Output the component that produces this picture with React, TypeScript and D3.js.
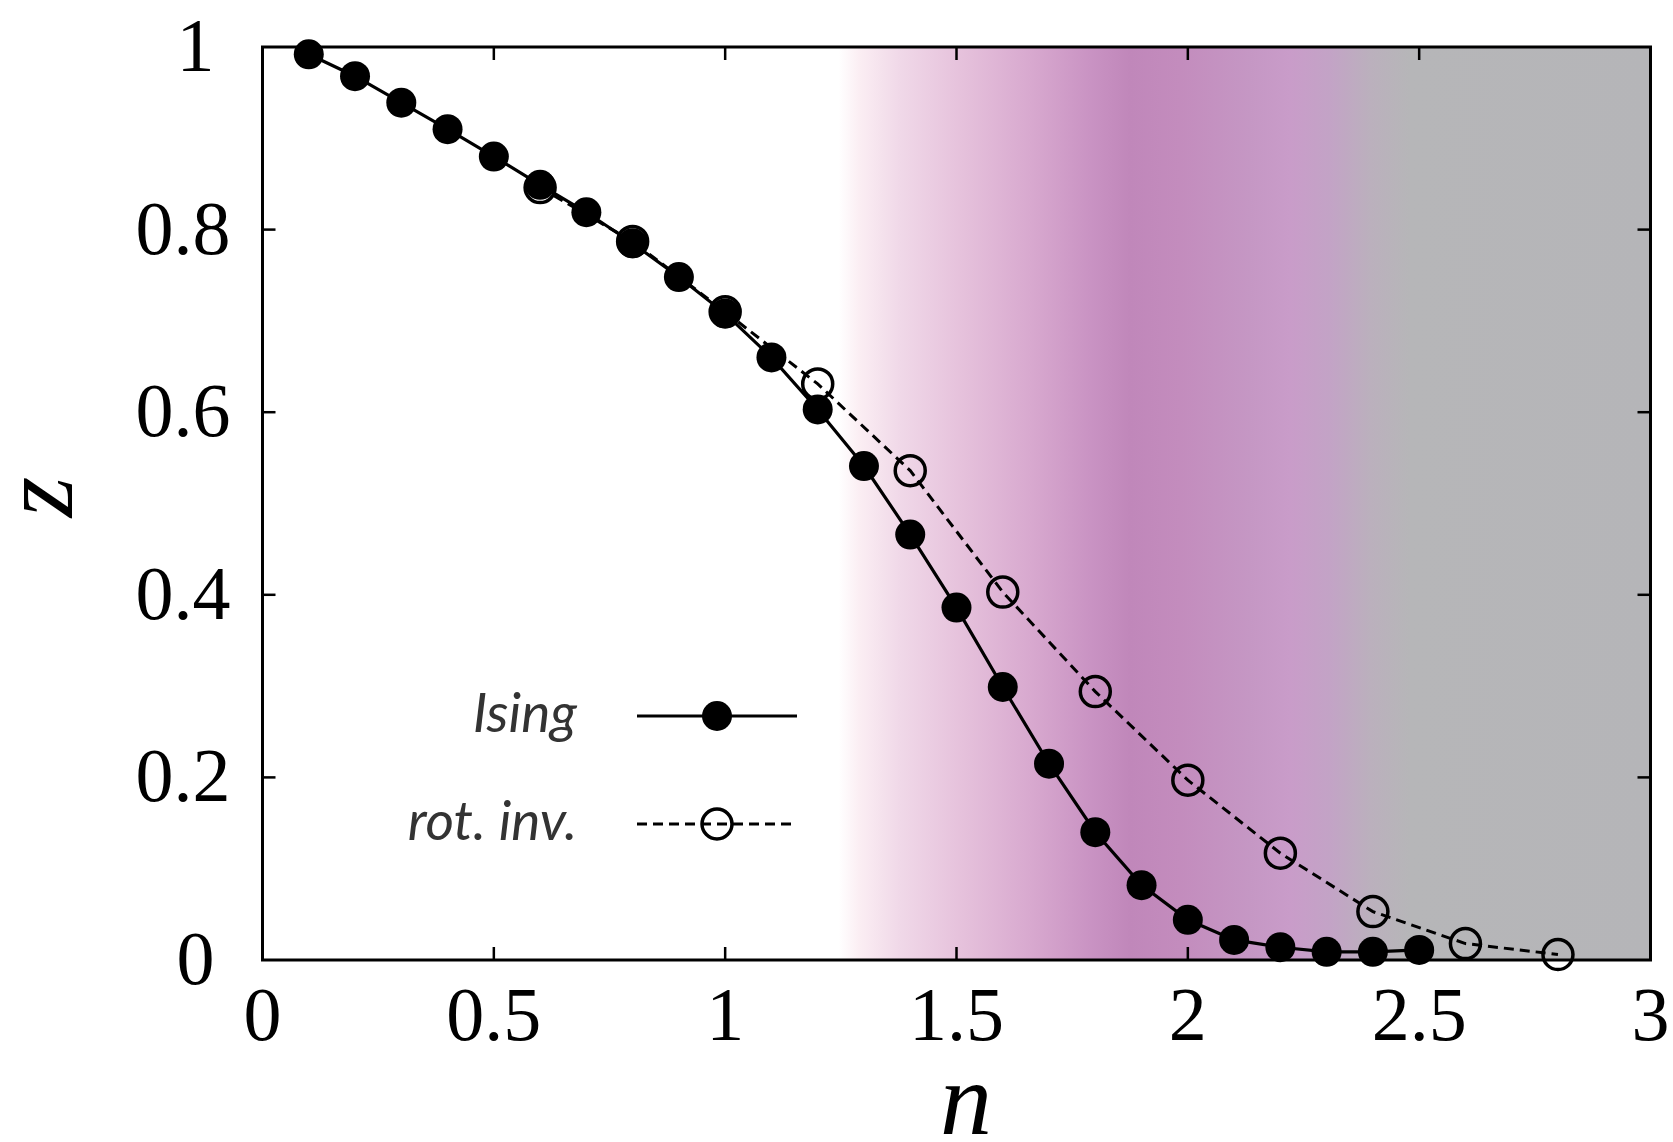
import { useMemo } from 'react';
import * as d3 from 'd3';

const ISING_N = [0.1, 0.2, 0.3, 0.4, 0.5, 0.6, 0.7, 0.8, 0.9, 1.0, 1.1, 1.2, 1.3, 1.4, 1.5, 1.6, 1.7, 1.8, 1.9, 2.0, 2.1, 2.2, 2.3, 2.4, 2.5];
const ISING_Z = [0.992, 0.968, 0.939, 0.91, 0.88, 0.849, 0.819, 0.785, 0.748, 0.708, 0.66, 0.603, 0.541, 0.466, 0.386, 0.299, 0.215, 0.14, 0.082, 0.044, 0.022, 0.014, 0.009, 0.009, 0.011];

const ROT_N = [0.6, 0.8, 1.0, 1.2, 1.4, 1.6, 1.8, 2.0, 2.2, 2.4, 2.6, 2.8];
const ROT_Z = [0.846, 0.787, 0.71, 0.631, 0.536, 0.403, 0.294, 0.197, 0.117, 0.053, 0.018, 0.006];

const X_TICKS = [0, 0.5, 1, 1.5, 2, 2.5, 3];
const Y_TICKS = [0, 0.2, 0.4, 0.6, 0.8, 1];

// background shading, position in n -> colour
const SHADE_N = [1.245, 1.29, 1.378, 1.507, 1.659, 1.789, 1.875, 1.983, 2.134, 2.221, 2.307, 2.394, 2.48, 3.0];
const SHADE_C = ['#ffffff', '#fbeef3', '#f0d8e8', '#e6c2dc', '#d8a9cf', '#c993c3', '#c087ba', '#c38cbd', '#c597c4', '#c99cc9', '#c3a3c6', '#bbb0bd', '#b6b6b8', '#b5b5b8'];

const W = 1673;
const H = 1142;
const M = { left: 262.5, right: 1650.5, top: 47, bottom: 960 };
const TICK = 13;
const SERIF = 'Liberation Serif';

export default function App() {
  const x = useMemo(() => d3.scaleLinear().domain([0, 3]).range([M.left, M.right]), []);
  const y = useMemo(() => d3.scaleLinear().domain([0, 1]).range([M.bottom, M.top]), []);

  const ising = ISING_N.map((n, i) => [n, ISING_Z[i]] as [number, number]);
  const rot = ROT_N.map((n, i) => [n, ROT_Z[i]] as [number, number]);
  const line = d3.line<[number, number]>().x(d => x(d[0])).y(d => y(d[1]));

  return (
    <svg width={W} height={H} style={{ position: 'absolute', left: 0, top: 0, background: '#fff' }}>
      <defs>
        <linearGradient id="shade" gradientUnits="userSpaceOnUse" x1={x(0)} x2={x(3)} y1={0} y2={0}>
          {SHADE_N.map((n, i) => (
            <stop key={i} offset={n / 3} stopColor={SHADE_C[i]} />
          ))}
        </linearGradient>
      </defs>

      {/* shaded region */}
      <rect x={x(SHADE_N[0])} y={M.top} width={x(3) - x(SHADE_N[0])} height={M.bottom - M.top} fill="url(#shade)" />

      {/* ticks, mirrored on all four sides */}
      {X_TICKS.slice(1, -1).map(t => (
        <g key={'xt' + t} stroke="#000" strokeWidth={2.5}>
          <line x1={x(t)} x2={x(t)} y1={M.bottom} y2={M.bottom - TICK} />
          <line x1={x(t)} x2={x(t)} y1={M.top} y2={M.top + TICK} />
        </g>
      ))}
      {Y_TICKS.slice(1, -1).map(t => (
        <g key={'yt' + t} stroke="#000" strokeWidth={2.5}>
          <line x1={M.left} x2={M.left + TICK} y1={y(t)} y2={y(t)} />
          <line x1={M.right} x2={M.right - TICK} y1={y(t)} y2={y(t)} />
        </g>
      ))}

      {/* data */}
      <path d={line(rot) ?? ''} fill="none" stroke="#000" strokeWidth={3} strokeDasharray="10,6" />
      {rot.map((d, i) => (
        <circle key={'r' + i} cx={x(d[0])} cy={y(d[1])} r={15} fill="none" stroke="#000" strokeWidth={3.5} />
      ))}
      <path d={line(ising) ?? ''} fill="none" stroke="#000" strokeWidth={3.2} />
      {ising.map((d, i) => (
        <circle key={'i' + i} cx={x(d[0])} cy={y(d[1])} r={15} fill="#000" />
      ))}

      {/* frame */}
      <rect x={M.left} y={M.top} width={M.right - M.left} height={M.bottom - M.top} fill="none" stroke="#000" strokeWidth={3} />

      {/* tick labels */}
      {X_TICKS.map(t => (
        <text key={'xl' + t} x={x(t)} y={1040} textAnchor="middle" fontFamily={SERIF} fontSize={76}>
          {String(t)}
        </text>
      ))}
      {Y_TICKS.map(t => (
        <text key={'yl' + t} x={Number.isInteger(t) ? M.left - 48 : M.left - 32} y={y(t) + 24} textAnchor="end" fontFamily={SERIF} fontSize={76}>
          {String(t)}
        </text>
      ))}

      {/* axis titles */}
      <text x={966} y={1134} textAnchor="middle" fontFamily={SERIF} fontStyle="italic" fontSize={104}>n</text>
      <text transform="translate(72,497) rotate(-90)" textAnchor="middle" fontFamily={SERIF} fontStyle="italic" fontSize={104}>z</text>

      {/* legend */}
      <g fontFamily="Lato" fontStyle="italic" fontSize={55} fill="#333" textAnchor="end">
        <text x={577} y={732}>Ising</text>
        <text x={577} y={840}>rot. inv.</text>
      </g>
      <line x1={637} x2={797} y1={716} y2={716} stroke="#000" strokeWidth={3.2} />
      <circle cx={717} cy={716} r={15} fill="#000" />
      <line x1={637} x2={797} y1={824} y2={824} stroke="#000" strokeWidth={3} strokeDasharray="10,6" />
      <circle cx={717} cy={824} r={15} fill="none" stroke="#000" strokeWidth={3.5} />
    </svg>
  );
}
